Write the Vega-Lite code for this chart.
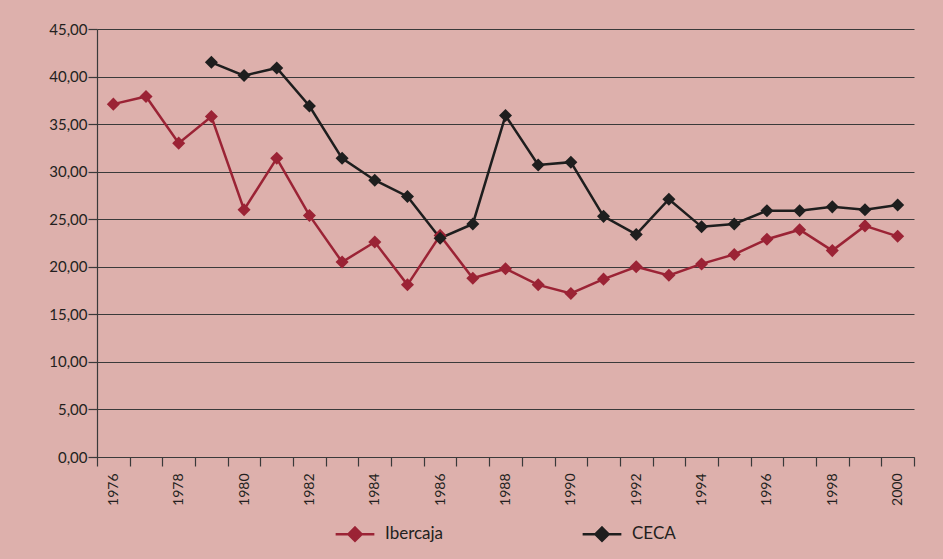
{
  "$schema": "https://vega.github.io/schema/vega-lite/v6.json",
  "autosize": "none",
  "width": 817,
  "height": 428,
  "padding": {"left": 97, "top": 29, "right": 29, "bottom": 102},
  "background": "#DDB0AC",
  "config": {
    "view": {"stroke": null},
    "font": "Lato",
    "axis": {"labelColor": "#231F20", "labelFont": "Lato", "domainColor": "#3a3a3a", "tickColor": "#3a3a3a", "domainWidth": 1.2, "tickWidth": 1.2}
  },
  "data": {
    "values": [
      {"year": 1976, "serie": "Ibercaja", "value": 37.1},
      {"year": 1977, "serie": "Ibercaja", "value": 37.9},
      {"year": 1978, "serie": "Ibercaja", "value": 33.0},
      {"year": 1979, "serie": "Ibercaja", "value": 35.8},
      {"year": 1980, "serie": "Ibercaja", "value": 26.0},
      {"year": 1981, "serie": "Ibercaja", "value": 31.4},
      {"year": 1982, "serie": "Ibercaja", "value": 25.4},
      {"year": 1983, "serie": "Ibercaja", "value": 20.5},
      {"year": 1984, "serie": "Ibercaja", "value": 22.6},
      {"year": 1985, "serie": "Ibercaja", "value": 18.1},
      {"year": 1986, "serie": "Ibercaja", "value": 23.3},
      {"year": 1987, "serie": "Ibercaja", "value": 18.8},
      {"year": 1988, "serie": "Ibercaja", "value": 19.8},
      {"year": 1989, "serie": "Ibercaja", "value": 18.1},
      {"year": 1990, "serie": "Ibercaja", "value": 17.2},
      {"year": 1991, "serie": "Ibercaja", "value": 18.7},
      {"year": 1992, "serie": "Ibercaja", "value": 20.0},
      {"year": 1993, "serie": "Ibercaja", "value": 19.1},
      {"year": 1994, "serie": "Ibercaja", "value": 20.3},
      {"year": 1995, "serie": "Ibercaja", "value": 21.3},
      {"year": 1996, "serie": "Ibercaja", "value": 22.9},
      {"year": 1997, "serie": "Ibercaja", "value": 23.9},
      {"year": 1998, "serie": "Ibercaja", "value": 21.7},
      {"year": 1999, "serie": "Ibercaja", "value": 24.3},
      {"year": 2000, "serie": "Ibercaja", "value": 23.2},
      {"year": 1979, "serie": "CECA", "value": 41.5},
      {"year": 1980, "serie": "CECA", "value": 40.1},
      {"year": 1981, "serie": "CECA", "value": 40.9},
      {"year": 1982, "serie": "CECA", "value": 36.9},
      {"year": 1983, "serie": "CECA", "value": 31.4},
      {"year": 1984, "serie": "CECA", "value": 29.1},
      {"year": 1985, "serie": "CECA", "value": 27.4},
      {"year": 1986, "serie": "CECA", "value": 23.0},
      {"year": 1987, "serie": "CECA", "value": 24.5},
      {"year": 1988, "serie": "CECA", "value": 35.9},
      {"year": 1989, "serie": "CECA", "value": 30.7},
      {"year": 1990, "serie": "CECA", "value": 31.0},
      {"year": 1991, "serie": "CECA", "value": 25.3},
      {"year": 1992, "serie": "CECA", "value": 23.4},
      {"year": 1993, "serie": "CECA", "value": 27.1},
      {"year": 1994, "serie": "CECA", "value": 24.2},
      {"year": 1995, "serie": "CECA", "value": 24.5},
      {"year": 1996, "serie": "CECA", "value": 25.9},
      {"year": 1997, "serie": "CECA", "value": 25.9},
      {"year": 1998, "serie": "CECA", "value": 26.3},
      {"year": 1999, "serie": "CECA", "value": 26.0},
      {"year": 2000, "serie": "CECA", "value": 26.5}
    ]
  },
  "encoding": {
    "x": {
      "field": "year",
      "type": "ordinal",
      "bandPosition": 0.5,
      "scale": {"type": "band", "paddingInner": 0, "paddingOuter": 0},
      "axis": {
        "title": null,
        "tickBand": "extent",
        "tickSize": 9,
        "labelAngle": -90,
        "labelAlign": "right",
        "labelBaseline": "middle",
        "labelPadding": 7,
        "labelFontSize": 14,
        "labelOverlap": false,
        "labelExpr": "datum.value % 2 == 0 ? datum.label : ''",
        "grid": false
      }
    },
    "y": {
      "field": "value",
      "type": "quantitative",
      "scale": {"domain": [0, 45], "nice": false, "zero": true},
      "axis": {
        "title": null,
        "values": [0, 5, 10, 15, 20, 25, 30, 35, 40, 45],
        "labelExpr": "replace(format(datum.value, '.2f'), '.', ',')",
        "labelFontSize": 15,
        "labelPadding": 1,
        "tickSize": 9,
        "grid": true,
        "gridColor": "#3a3a3a",
        "gridWidth": 1.2,
        "gridOpacity": 1
      }
    },
    "color": {
      "field": "serie",
      "type": "nominal",
      "sort": ["Ibercaja", "CECA"],
      "scale": {"domain": ["Ibercaja", "CECA"], "range": ["#9B2335", "#1E1E1E"]},
      "legend": {
        "title": null,
        "orient": "none",
        "direction": "horizontal",
        "legendX": 237,
        "legendY": 484,
        "symbolType": "M-1,0H1M0,-0.34L0.34,0L0,0.34L-0.34,0Z",
        "symbolSize": 1500,
        "symbolStrokeWidth": 2.5,
        "labelFontSize": 17,
        "labelColor": "#231F20",
        "labelFont": "Lato",
        "symbolOffset": 0,
        "columnPadding": 133,
        "labelOffset": 9,
        "encode": {"symbols": {"update": {"fill": {"scale": "color", "field": "value"}, "opacity": {"value": 1}}}}
      }
    }
  },
  "layer": [
    {"mark": {"type": "line", "strokeWidth": 2.5}},
    {"mark": {"type": "point", "shape": "diamond", "filled": true, "size": 170, "opacity": 1}}
  ]
}
